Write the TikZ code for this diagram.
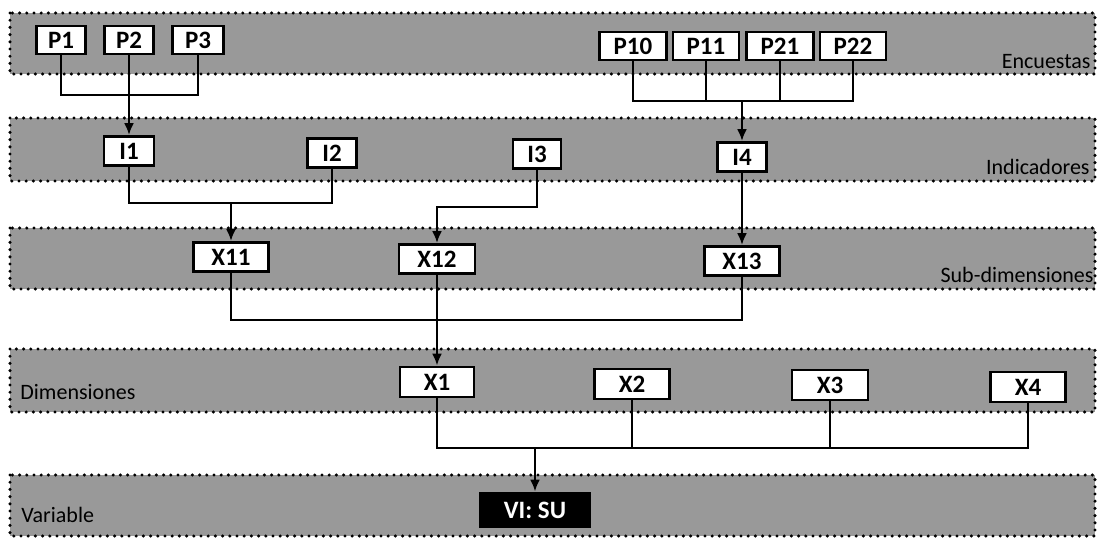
\documentclass[tikz,border=0pt]{standalone}
\usepackage{fontspec}
\setmainfont{Carlito}
\usetikzlibrary{arrows.meta}
\tikzset{
  band/.style={fill=black!40, draw=black, line width=1.7pt, line cap=round, dash pattern=on 0pt off 3.6pt},
  box/.style={draw=black, fill=white, line width=1.4pt, inner sep=0pt, font=\bfseries\fontsize{12.5}{12.5}\selectfont, minimum height=14pt},
  darkbox/.style={draw=black, fill=black, text=white, line width=1.4pt, inner sep=0pt, font=\bfseries\fontsize{12.5}{12.5}\selectfont, minimum height=17pt, minimum width=54.5pt},
  lbl/.style={inner sep=0pt, font=\fontsize{11}{11}\selectfont},
  conn/.style={line width=1.2pt},
  arr/.style={line width=1.2pt, -{Latex[length=6pt,width=5pt]}}
}
\begin{document}
\begin{tikzpicture}[x=0.5pt,y=-0.5pt]
\useasboundingbox (0,0) rectangle (1099,542);
% bands
\path[band] (10,13) rectangle (1095,74);
\path[band] (10,118) rectangle (1095,181);
\path[band] (10,228) rectangle (1095,289);
\path[band] (10,349) rectangle (1095,412);
\path[band] (10,475) rectangle (1095,536);
% band labels
\node[lbl, anchor=east] (lenc) at (1091,62) {Encuestas};
\node[lbl, anchor=east] (lind) at (1090,167) {Indicadores};
\node[lbl, anchor=east] (lsub) at (1094,275) {Sub-dimensiones};
\node[lbl, anchor=west] (ldim) at (20,392) {Dimensiones};
\node[lbl, anchor=west] (lvar) at (21,515) {Variable};
% Encuestas
\node[box, minimum width=24.5pt] (p1) at (61,40) {P1};
\node[box, minimum width=24.5pt] (p2) at (129,40) {P2};
\node[box, minimum width=25.5pt] (p3) at (198,40) {P3};
\node[box, minimum width=33.5pt] (p10) at (633,46) {P10};
\node[box, minimum width=33pt] (p11) at (706,46) {P11};
\node[box, minimum width=33.5pt] (p21) at (780,46) {P21};
\node[box, minimum width=33pt] (p22) at (853,46) {P22};
% Indicadores
\node[box, minimum width=25pt, minimum height=14.5pt] (i1) at (129,151) {I1};
\node[box, minimum width=24.5pt, minimum height=14.5pt] (i2) at (332,153) {I2};
\node[box, minimum width=24pt, minimum height=14.5pt] (i3) at (537,154) {I3};
\node[box, minimum width=24.5pt, minimum height=14.5pt] (i4) at (742,157) {I4};
% Sub-dimensiones
\node[box, minimum width=37.5pt, minimum height=14.5pt] (x11) at (231,257) {X11};
\node[box, minimum width=38pt, minimum height=14.5pt] (x12) at (437,259) {X12};
\node[box, minimum width=37.5pt, minimum height=14.5pt] (x13) at (742,261) {X13};
% Dimensiones
\node[box, minimum width=37pt, minimum height=15pt] (x1) at (437,382) {X1};
\node[box, minimum width=37.5pt, minimum height=15pt] (x2) at (632,384) {X2};
\node[box, minimum width=38pt, minimum height=15pt] (x3) at (830,385) {X3};
\node[box, minimum width=37.5pt, minimum height=15pt] (x4) at (1028,387) {X4};
% Variable
\node[darkbox] (vi) at (535,510) {VI: SU};
% junctions
\coordinate (jP) at (129,95);
\coordinate (jQ) at (742,101);
\coordinate (jI) at (231,203);
\coordinate (jI3) at (437,207);
\coordinate (jX) at (437,320);
\coordinate (jD) at (535,448);
% connectors
\draw[conn] (p1.south) |- (jP) -| (p3.south);
\draw[arr] (p2.south) -- (i1.north);
\draw[conn] (p10.south) |- (jQ) -| (p22.south);
\draw[conn] (p11.south) -- (p11.south |- jQ);
\draw[conn] (p21.south) -- (p21.south |- jQ);
\draw[arr] (jQ) -- (i4.north);
\draw[conn] (i1.south) |- (jI) -| (i2.south);
\draw[arr] (jI) -- (x11.north);
\draw[arr] (i3.south) |- (jI3) -- (x12.north);
\draw[arr] (i4.south) -- (x13.north);
\draw[conn] (x11.south) |- (jX) -| (x13.south);
\draw[arr] (x12.south) -- (x1.north);
\draw[conn] (x1.south) |- (jD) -| (x4.south);
\draw[conn] (x2.south) -- (x2.south |- jD);
\draw[conn] (x3.south) -- (x3.south |- jD);
\draw[arr] (jD) -- (vi.north);
\end{tikzpicture}
\end{document}
